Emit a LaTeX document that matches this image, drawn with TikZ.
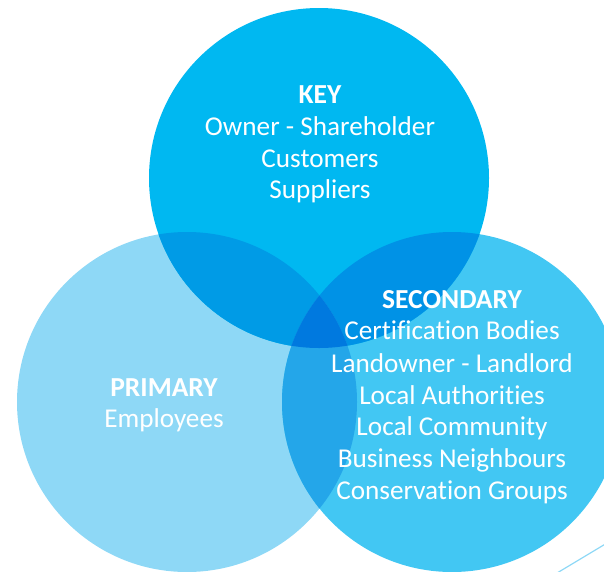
\documentclass[tikz,border=0pt]{standalone}
\usepackage{fontspec}
\setmainfont[Ligatures={NoCommon}]{Carlito}
\definecolor{cTop}{HTML}{00B8F1}
\definecolor{cLeft}{HTML}{8ED8F6}
\definecolor{cRight}{HTML}{42C7F3}
\definecolor{cKP}{HTML}{009BE6}
\definecolor{cKS}{HTML}{0092E6}
\definecolor{cPS}{HTML}{24A6E9}
\definecolor{cAll}{HTML}{0079DF}
\tikzset{
  lbl/.style={text=white, anchor=base, inner sep=0pt, font=\fontsize{27.2}{32}\selectfont},
  ttl/.style={lbl, font=\fontsize{27.5}{32}\selectfont\bfseries},
}
\begin{document}
\begin{tikzpicture}[x=1pt,y=-1pt]
\useasboundingbox (0,0) rectangle (604,571);
\clip (0,0) rectangle (604,571);
\coordinate (K) at (319,178);
\coordinate (P) at (187,402);
\coordinate (S) at (452,402);
\fill[cLeft] (P) circle (170pt);
\fill[cRight] (S) circle (170pt);
\fill[cTop] (K) circle (170pt);
\begin{scope}
  \clip (K) circle (170pt);
  \fill[cKP] (P) circle (170pt);
  \fill[cKS] (S) circle (170pt);
  \clip (P) circle (170pt);
  \fill[cAll] (S) circle (170pt);
\end{scope}
\begin{scope}
  \clip (P) circle (170pt);
  \clip (S) circle (170pt);
  \fill[cPS] (0,0) rectangle (604,571);
  \clip (K) circle (170pt);
  \fill[cAll] (0,0) rectangle (604,571);
\end{scope}
\coordinate (l1) at (552,576);
\coordinate (l2) at (612,540);
\draw[cLeft, line width=1.2pt] (l1) -- (l2);
% KEY
\node[ttl] (k0) at (320,103) {KEY};
\node[lbl] (k1) at (320,135) {Owner - Shareholder};
\node[lbl] (k2) at (320,167) {Customers};
\node[lbl] (k3) at (320,198) {Suppliers};
% PRIMARY
\node[ttl] (p0) at (164,396) {PRIMARY};
\node[lbl] (p1) at (164,427) {Employees};
% SECONDARY
\node[ttl] (s0) at (452,308) {SECONDARY};
\node[lbl] (s1) at (452,339) {Certification Bodies};
\node[lbl] (s2) at (452,372) {Landowner - Landlord};
\node[lbl] (s3) at (452,404) {Local Authorities};
\node[lbl] (s4) at (452,435) {Local Community};
\node[lbl] (s5) at (452,467) {Business Neighbours};
\node[lbl] (s6) at (452,499) {Conservation Groups};
\end{tikzpicture}
\end{document}
